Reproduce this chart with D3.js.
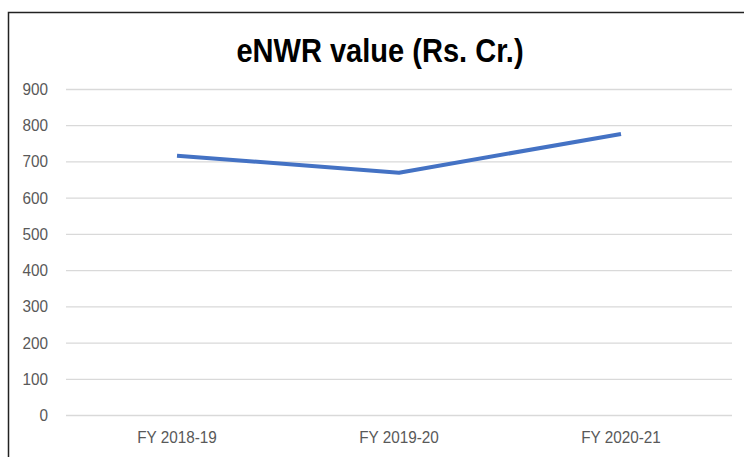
<!doctype html>
<meta charset="utf-8">
<title>eNWR value</title>
<script src="https://cdn.jsdelivr.net/npm/d3@7"></script>
<style>
body { margin: 0; background: #fff; }
svg { display: block; }
</style>
<svg id="chart" width="744" height="457"></svg>
<script>
var years = ["FY 2018-19", "FY 2019-20", "FY 2020-21"];
var values = [716, 669, 776];
var yTicks = [0, 100, 200, 300, 400, 500, 600, 700, 800, 900];

var svg = d3.select("#chart");
var plotLeft = 66, plotRight = 732, plotTop = 89, plotBottom = 415;
var font = "Liberation Sans, Arial, sans-serif";

// frame
svg.append("path")
  .attr("d", "M8.5,457 V12.5 H744")
  .attr("fill", "none")
  .attr("stroke", "#222")
  .attr("stroke-width", 1.5);

// title, squeezed a bit to mimic a condensed bold face
svg.append("text")
  .attr("transform", "translate(380,62) scale(0.88,1)")
  .attr("text-anchor", "middle")
  .attr("font-family", font)
  .attr("font-weight", "bold")
  .attr("font-size", 33)
  .attr("fill", "#000")
  .text("eNWR value (Rs. Cr.)");

var x = d3.scaleBand().domain(years).range([plotLeft, plotRight]);
var y = d3.scaleLinear().domain([0, 900]).range([plotBottom, plotTop]);

var yAxis = svg.append("g")
  .attr("transform", "translate(" + plotLeft + ",0)")
  .call(d3.axisLeft(y).tickValues(yTicks).tickSize(-(plotRight - plotLeft)).tickPadding(0));
yAxis.select(".domain").remove();
yAxis.selectAll(".tick line").attr("stroke", "#d9d9d9").attr("stroke-width", 1.3);
yAxis.selectAll("text")
  .attr("x", null)
  .attr("transform", "translate(-18,0) scale(0.9,1)")
  .attr("fill", "#595959")
  .attr("font-family", font)
  .attr("font-size", 17);

var xAxis = svg.append("g")
  .attr("transform", "translate(0," + plotBottom + ")")
  .call(d3.axisBottom(x).tickSize(0).tickPadding(16));
xAxis.select(".domain").remove();
xAxis.selectAll("text")
  .attr("transform", "scale(0.9,1)")
  .attr("fill", "#595959")
  .attr("font-family", font)
  .attr("font-size", 17);

var line = d3.line()
  .x(function(d, i) { return x(years[i]) + x.bandwidth() / 2; })
  .y(function(d) { return y(d); });

svg.append("path")
  .datum(values)
  .attr("d", line)
  .attr("fill", "none")
  .attr("stroke", "#4472C4")
  .attr("stroke-width", 4)
  .attr("stroke-linejoin", "round");
</script>
